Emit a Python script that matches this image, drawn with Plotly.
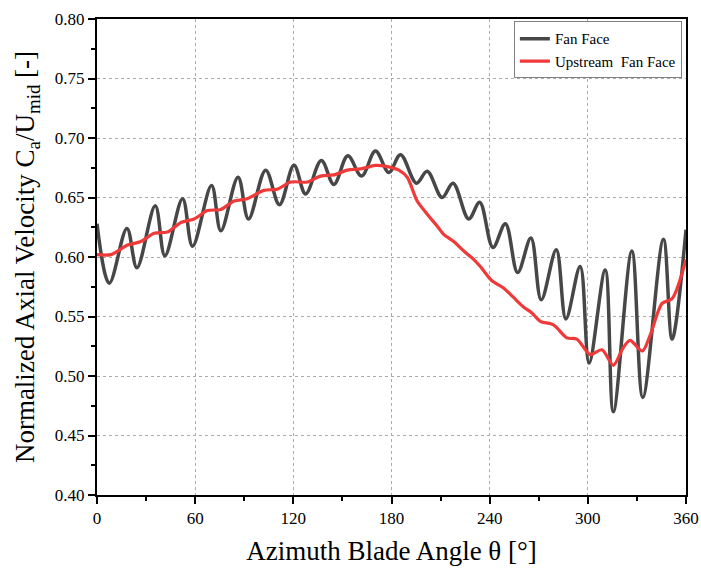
import plotly.graph_objects as go

# Fan Face (black) - read at peaks/troughs
fan_theta = [0, 7.5, 18.3, 24.4, 35.6, 41.5, 52.3, 58.4, 70.0, 75.7, 86.2, 92.6, 103.1, 111.5,
             120.4, 127.5, 137.1, 144.8, 153.3, 161.7, 170.2, 178.4, 185.5, 195.3, 201.8, 210.9,
             217.6, 227.2, 233.9, 242.0, 249.6, 257.1, 265.2, 271.5, 280.7, 286.6, 295.3, 300.8,
             310.6, 315.6, 326.9, 333.6, 346.2, 351.5, 360]
fan_vel = [0.628, 0.578, 0.624, 0.591, 0.643, 0.601, 0.649, 0.609, 0.660, 0.622, 0.667, 0.632, 0.673, 0.644,
           0.677, 0.653, 0.681, 0.661, 0.685, 0.668, 0.689, 0.671, 0.686, 0.662, 0.672, 0.650,
           0.662, 0.632, 0.646, 0.608, 0.628, 0.587, 0.616, 0.564, 0.606, 0.548, 0.592, 0.511,
           0.589, 0.470, 0.605, 0.482, 0.615, 0.531, 0.623]

# Upstream Fan Face (red)
up_theta = [0, 8.5, 18.7, 26.8, 35, 43.1, 51.3, 59.4, 67.5, 75.7, 83.8, 91.9, 102, 110.2, 118.4,
            128.5, 136.7, 144.8, 153, 161.1, 170.2, 177.4, 184.5, 189.6, 195.7, 201.8, 207.9,
            211.9, 218, 224.2, 230.2, 234.3, 241.4, 248.5, 254.6, 260.7, 265.8, 270.9, 279,
            287.2, 293.3, 301.4, 308.6, 315.6, 321.7, 325.8, 333.3, 338, 345.4, 351.5, 360]
up_vel = [0.602, 0.602, 0.610, 0.613, 0.620, 0.621, 0.629, 0.632, 0.639, 0.640, 0.647, 0.649, 0.656, 0.657, 0.663,
          0.663, 0.668, 0.669, 0.673, 0.674, 0.677, 0.676, 0.673, 0.667, 0.647, 0.636, 0.626,
          0.619, 0.613, 0.605, 0.598, 0.592, 0.580, 0.574, 0.566, 0.558, 0.553, 0.546, 0.543,
          0.532, 0.531, 0.518, 0.522, 0.509, 0.524, 0.530, 0.521, 0.534, 0.561, 0.565, 0.598]

FONT = "Liberation Serif"

fig = go.Figure()
fig.add_trace(go.Scatter(x=fan_theta, y=fan_vel, mode="lines", name="Fan Face",
                         line=dict(color="#474747", width=3.5, shape="spline", smoothing=1.0)))
fig.add_trace(go.Scatter(x=up_theta, y=up_vel, mode="lines", name="Upstream  Fan Face",
                         line=dict(color="#f03a3a", width=3.2, shape="spline", smoothing=0.8)))

axis_common = dict(showline=True, linewidth=2, linecolor="black", mirror=True,
                   ticks="outside", ticklen=7, tickwidth=2, tickcolor="black",
                   showgrid=True, gridcolor="#ababab", gridwidth=1, griddash="3px,3px",
                   zeroline=False, automargin=False,
                   tickfont=dict(family=FONT, size=17, color="black"))

fig.update_xaxes(range=[0, 360], tick0=0, dtick=60,
                 minor=dict(dtick=30, ticks="outside", ticklen=4, tickwidth=2, tickcolor="black", showgrid=False),
                 title=dict(text="Azimuth Blade Angle θ [°]", font=dict(family=FONT, size=27, color="black"), standoff=14),
                 **axis_common)
fig.update_yaxes(range=[0.40, 0.80], tick0=0.40, dtick=0.05, tickformat=".2f",
                 minor=dict(dtick=0.025, ticks="outside", ticklen=4, tickwidth=2, tickcolor="black", showgrid=False),
                 title=dict(text="Normalized Axial Velocity C<sub>a</sub>/U<sub>mid</sub> [-]",
                            font=dict(family=FONT, size=27, color="black"), standoff=12),
                 **axis_common)

fig.update_layout(width=701, height=572, margin=dict(l=97, r=15, t=19, b=77),
                  paper_bgcolor="white", plot_bgcolor="white",
                  font=dict(family=FONT, color="black"),
                  legend=dict(x=0.993, y=0.995, xanchor="right", yanchor="top",
                              bgcolor="white", bordercolor="#808080", borderwidth=1,
                              font=dict(family=FONT, size=15, color="black"),
                              tracegroupgap=0, itemwidth=30),
                  showlegend=True)

fig.write_html("out.html")
